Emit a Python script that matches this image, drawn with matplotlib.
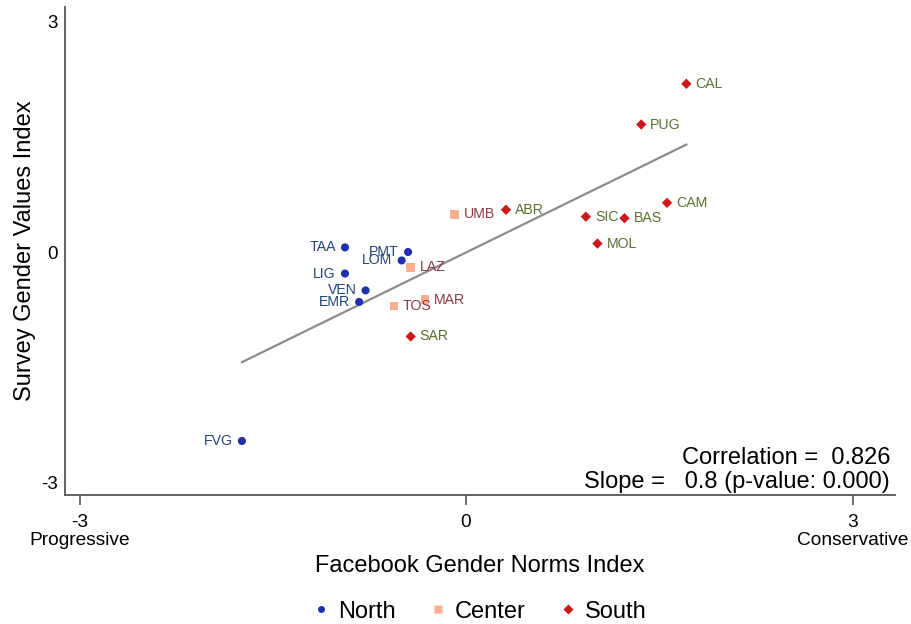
import numpy as np
import matplotlib
matplotlib.use("Agg")
import matplotlib.pyplot as plt
from matplotlib.lines import Line2D

plt.rcParams["font.family"] = ["Liberation Sans", "DejaVu Sans"]

# Regional index values (Facebook norms index, survey values index)
north_names = ["TAA", "PMT", "LOM", "LIG", "VEN", "EMR", "FVG"]
north_fb = [-0.94, -0.45, -0.50, -0.94, -0.78, -0.83, -1.74]
north_sv = [0.06, 0.00, -0.11, -0.28, -0.50, -0.65, -2.46]

center_names = ["UMB", "LAZ", "TOS", "MAR"]
center_fb = [-0.09, -0.43, -0.56, -0.32]
center_sv = [0.49, -0.20, -0.70, -0.62]

south_names = ["CAL", "PUG", "ABR", "CAM", "SIC", "BAS", "MOL", "SAR"]
south_fb = [1.71, 1.36, 0.31, 1.56, 0.93, 1.23, 1.02, -0.43]
south_sv = [2.19, 1.66, 0.55, 0.64, 0.46, 0.44, 0.11, -1.10]

# Labels drawn to the left of the marker
left_labels = {"TAA", "PMT", "LOM", "LIG", "VEN", "EMR", "FVG"}

correlation = 0.826
slope_txt = 0.8
pvalue = 0.000

xticks = [-3, 0, 3]
xticklabels = ["-3\nProgressive", "0", "3\nConservative"]
yticks = [-3, 0, 3]

groups = [
    ("North", north_names, north_fb, north_sv, "o", "#1f2fb0", "#24457a", 34),
    ("Center", center_names, center_fb, center_sv, "s", "#fcae92", "#8c3a45", 36),
    ("South", south_names, south_fb, south_sv, "D", "#cc1a1a", "#58722f", 28),
]

fig = plt.figure(figsize=(9.12, 6.24), dpi=100)
ax = fig.add_axes([0.0713, 0.2067, 0.9101, 0.7821])

for name, labels, xs, ys, mk, col, tcol, s in groups:
    ax.scatter(xs, ys, marker=mk, s=s, color=col, edgecolors="none", zorder=3)
    for lab, x, y in zip(labels, xs, ys):
        if lab in left_labels:
            ax.annotate(lab, (x, y), xytext=(-6.5, 0), textcoords="offset points",
                        ha="right", va="center", fontsize=10.2, color=tcol, zorder=4)
        else:
            ax.annotate(lab, (x, y), xytext=(6.5, 0), textcoords="offset points",
                        ha="left", va="center", fontsize=10.2, color=tcol, zorder=4)

# Linear fit across all regions
all_x = np.array(north_fb + center_fb + south_fb)
all_y = np.array(north_sv + center_sv + south_sv)
b, a = np.polyfit(all_x, all_y, 1)
xx = np.array([all_x.min(), all_x.max()])
ax.plot(xx, a + b * xx, color="#8c8c8c", lw=1.6, zorder=2)

ax.set_xlim(-3.113, 3.33)
ax.set_ylim(-3.164, 3.19)
ax.set_xticks(xticks)
ax.set_xticklabels(xticklabels, fontsize=13.8, linespacing=1.05)
ax.set_yticks(yticks)
ax.set_yticklabels([str(t) for t in yticks], fontsize=13.5)
ax.tick_params(axis="x", length=7, width=1.2, color="#555555", pad=7)
ax.tick_params(axis="y", length=0, pad=5)

for sp in ["top", "right"]:
    ax.spines[sp].set_visible(False)
for sp in ["left", "bottom"]:
    ax.spines[sp].set_color("#555555")
    ax.spines[sp].set_linewidth(1.3)

ax.set_xlabel("Facebook Gender Norms Index", fontsize=17, labelpad=4)
ax.set_ylabel("Survey Gender Values Index", fontsize=17, labelpad=4)

ax.text(0.994, 0.075, f"Correlation =  {correlation:.3f}", transform=ax.transAxes,
        ha="right", va="center", fontsize=17)
ax.text(0.994, 0.027, f"Slope =   {slope_txt:.1f} (p-value: {pvalue:.3f})",
        transform=ax.transAxes, ha="right", va="center", fontsize=17)

handles = [
    Line2D([], [], ls="none", marker="o", ms=5, color="#1f2fb0", mec="none", label="North"),
    Line2D([], [], ls="none", marker="s", ms=5.5, color="#fcae92", mec="none", label="Center"),
    Line2D([], [], ls="none", marker="D", ms=5, color="#cc1a1a", mec="none", label="South"),
]
fig.legend(handles=handles, loc="center", bbox_to_anchor=(0.524, 0.02), ncol=3,
           frameon=False, fontsize=17, handletextpad=0.2, columnspacing=1.3,
           handlelength=1.0)

fig.savefig("out.png", dpi=100)
